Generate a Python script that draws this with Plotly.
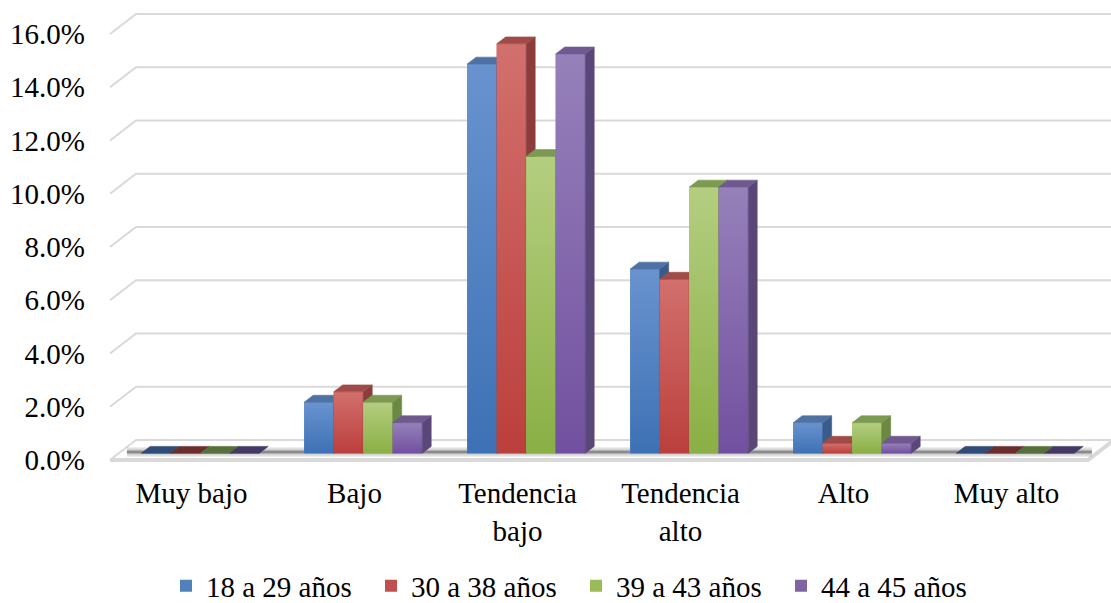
import plotly.graph_objects as go

# ---- data -------------------------------------------------------------
categories = ["Muy bajo", "Bajo", "Tendencia<br>bajo", "Tendencia<br>alto", "Alto", "Muy alto"]
series_names = ["18 a 29 años", "30 a 38 años", "39 a 43 años", "44 a 45 años"]
pct_18_29 = [0.0, 1.92, 14.62, 6.92, 1.15, 0.0]
pct_30_38 = [0.0, 2.31, 15.38, 6.54, 0.38, 0.0]
pct_39_43 = [0.0, 1.92, 11.15, 10.00, 1.15, 0.0]
pct_44_45 = [0.0, 1.15, 15.00, 10.00, 0.38, 0.0]
y_ticks = [0, 2, 4, 6, 8, 10, 12, 14, 16]
y_tick_labels = ["0.0%", "2.0%", "4.0%", "6.0%", "8.0%", "10.0%", "12.0%", "14.0%", "16.0%"]

series_values = [pct_18_29, pct_30_38, pct_39_43, pct_44_45]

# ---- styling ----------------------------------------------------------
FONT = "'Liberation Serif', 'Times New Roman', Times, serif"
FONT_SIZE = 29
GRID = "#D9D9D9"
# (legend, front top, front bottom, top face, side face, empty top face)
PALETTE = [
    ("#4F81BD", "#6993CF", "#3D71B5", "#4E72A3", "#3B5B8A", "#2F4C78"),
    ("#C0504D", "#D2706D", "#BB3F3C", "#A04B48", "#8A3D3B", "#6B2E2C"),
    ("#9BBB59", "#B4CE80", "#8AAF45", "#7C9A50", "#6C8944", "#55703A"),
    ("#8064A2", "#9681BA", "#7250A0", "#6E5A8E", "#5A4779", "#443864"),
]

# oblique projection: depth axis shifts right and up
PX_PER_CAT = 163.0
PX_PER_PCT = 26.625
DEPTH_DX = 26.0 / PX_PER_CAT
DEPTH_DY = 20.0 / PX_PER_PCT
BAR_W = 0.181
D_FRONT, D_BACK = 0.335, 0.68
X_LEFT, X_RIGHT = -0.5, 5.5

PLOT_L, PLOT_R, PLOT_T, PLOT_B = 100, 1111, 10, 470
FRONT_LEFT_PX, FRONT_ZERO_PX = 110, 460
x_range = [X_LEFT - (FRONT_LEFT_PX - PLOT_L) / PX_PER_CAT,
           X_LEFT + (PLOT_R - FRONT_LEFT_PX) / PX_PER_CAT]
y_range = [-(PLOT_B - FRONT_ZERO_PX) / PX_PER_PCT,
           (FRONT_ZERO_PX - PLOT_T) / PX_PER_PCT]


def proj(x, y, d):
    return x + d * DEPTH_DX, y + d * DEPTH_DY


def poly(points):
    xs, ys = [], []
    for x, y, d in points:
        px, py = proj(x, y, d)
        xs.append(px)
        ys.append(py)
    xs.append(xs[0])
    ys.append(ys[0])
    return xs, ys


fig = go.Figure()

# ---- back walls: gridlines -------------------------------------------
gx, gy = [], []
for t in y_ticks:
    for x, d in [(X_LEFT, 0), (X_LEFT, 1), (X_RIGHT, 1)]:
        px, py = proj(x, t, d)
        gx.append(px)
        gy.append(py)
    gx.append(None)
    gy.append(None)
fig.add_trace(go.Scatter(x=gx, y=gy, mode="lines", line=dict(color=GRID, width=2),
                         hoverinfo="skip", showlegend=False, zorder=-3))

# ---- floor -----------------------------------------------------------
fx, fy = [], []
for x, d in [(X_LEFT, 0), (X_RIGHT, 0), (X_RIGHT, 1)]:
    px, py = proj(x, 0, d)
    fx.append(px)
    fy.append(py)
fig.add_trace(go.Scatter(x=fx, y=fy, mode="lines", line=dict(color=GRID, width=4),
                         hoverinfo="skip", showlegend=False, zorder=-3))

# soft shadow cast on the floor along the bar row
SHADOW_D = 0.40
sx = [proj(X_LEFT + 0.04, 0, SHADOW_D)[0], proj(X_RIGHT - 0.04, 0, SHADOW_D)[0]]
sy = [SHADOW_D * DEPTH_DY, SHADOW_D * DEPTH_DY]
for w, a in [(10, 0.07), (7, 0.10), (4, 0.16), (2, 0.22)]:
    fig.add_trace(go.Scatter(x=sx, y=sy, mode="lines",
                             line=dict(color=f"rgba(0,0,0,{a})", width=w),
                             hoverinfo="skip", showlegend=False, zorder=-2))

# ---- 3D columns ------------------------------------------------------
n_series = len(series_values)
for j, (name, vals) in enumerate(zip(series_names, series_values)):
    legend_c, grad_top, grad_bot, top_c, side_c, empty_c = PALETTE[j]
    lefts = [i - n_series * BAR_W / 2 + j * BAR_W for i in range(len(categories))]

    # front faces
    fig.add_trace(go.Bar(
        x=[l + BAR_W / 2 + D_FRONT * DEPTH_DX for l in lefts],
        y=vals, base=D_FRONT * DEPTH_DY, width=BAR_W, name=name,
        marker=dict(color=legend_c, line=dict(width=0)), zorder=j,
    ))

    # shaded overlay on each front face
    for l, v in zip(lefts, vals):
        if v <= 0:
            continue
        xs, ys = poly([(l, 0, D_FRONT), (l + BAR_W, 0, D_FRONT),
                       (l + BAR_W, v, D_FRONT), (l, v, D_FRONT)])
        fig.add_trace(go.Scatter(
            x=xs, y=ys, mode="lines", fill="toself", line=dict(width=0, color=grad_bot),
            fillgradient=dict(type="vertical", colorscale=[[0, grad_bot], [1, grad_top]]),
            hoverinfo="skip", showlegend=False, zorder=j))

    # side faces
    sxs, sys_ = [], []
    for l, v in zip(lefts, vals):
        if v <= 0:
            continue
        r = l + BAR_W
        xs, ys = poly([(r, 0, D_FRONT), (r, v, D_FRONT), (r, v, D_BACK), (r, 0, D_BACK)])
        sxs += xs + [None]
        sys_ += ys + [None]
    fig.add_trace(go.Scatter(x=sxs, y=sys_, mode="lines", fill="toself",
                             fillcolor=side_c, line=dict(width=0.6, color=side_c),
                             hoverinfo="skip", showlegend=False, zorder=j))

    # top faces (empty categories drawn darker, sitting on the floor)
    for empty, colr in [(False, top_c), (True, empty_c)]:
        txs, tys = [], []
        for l, v in zip(lefts, vals):
            if (v <= 0) != empty:
                continue
            r = l + BAR_W
            xs, ys = poly([(l, v, D_FRONT), (r, v, D_FRONT), (r, v, D_BACK), (l, v, D_BACK)])
            txs += xs + [None]
            tys += ys + [None]
        if txs:
            fig.add_trace(go.Scatter(x=txs, y=tys, mode="lines", fill="toself",
                                     fillcolor=colr, line=dict(width=0.6, color=colr),
                                     hoverinfo="skip", showlegend=False, zorder=j))

fig.update_layout(
    width=1111, height=603,
    margin=dict(l=PLOT_L, r=1111 - PLOT_R, t=PLOT_T, b=603 - PLOT_B),
    paper_bgcolor="white", plot_bgcolor="white",
    barmode="overlay",
    font=dict(family=FONT, size=FONT_SIZE, color="black"),
    showlegend=True,
    legend=dict(orientation="h", xref="container", yref="container",
                x=166 / 1111, xanchor="left", y=1 - 586 / 603, yanchor="middle",
                entrywidth=160, font=dict(family=FONT, size=FONT_SIZE, color="black"),
                bgcolor="rgba(0,0,0,0)"),
    xaxis=dict(range=x_range, tickmode="array", tickvals=list(range(len(categories))),
               ticktext=categories, showgrid=False, zeroline=False, showline=False,
               ticks="", ticklabelstandoff=3, fixedrange=True),
    yaxis=dict(range=y_range, tickmode="array", tickvals=y_ticks, ticktext=y_tick_labels,
               showgrid=False, zeroline=False, showline=False, ticks="",
               ticklabelstandoff=14, fixedrange=True),
)

fig.write_html("out.html")
